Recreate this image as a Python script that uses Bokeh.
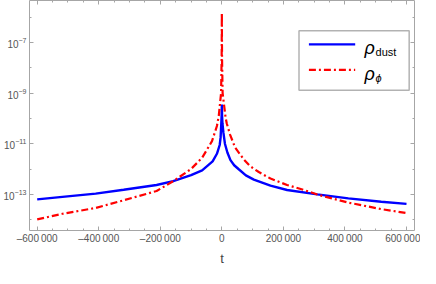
from bokeh.plotting import figure
from bokeh.models import (FixedTicker, LinearAxis, Range1d, BoxAnnotation,
                          Label, Arrow, LogTickFormatter, CustomJSTickFormatter)
from bokeh.embed import file_html
from bokeh.resources import INLINE

# ---- data ----
dust_t = [-600000, -518000, -410000, -319000, -212000, -158000, -100000, -64000,
          -30000, -16000, -7000, -4000, -2000, -700, 0, 700, 2000, 5000, 10000,
          18000, 28000, 40000, 54000, 78000, 104000, 158000, 212000, 310000,
          411000, 518000, 600000]
dust_rho = [6.3e-14, 7.9e-14, 1.07e-13, 1.51e-13, 2.34e-13, 3.3e-13, 5.75e-13, 8.9e-13,
            2.0e-12, 4.0e-12, 8.9e-12, 1.78e-11, 5.6e-11, 1.26e-10, 3.5e-10, 1.26e-10,
            6.3e-11, 2.8e-11, 1.0e-11, 4.5e-12, 2.24e-12, 1.41e-12, 1.0e-12, 5.6e-13,
            3.8e-13, 2.2e-13, 1.48e-13, 1.0e-13, 6.9e-14, 5.1e-14, 4.2e-14]

phi_t = [-600000, -518000, -410000, -319000, -212000, -158000, -100000, -64000,
         -32000, -16000, -10000, -2500, -600, 0, 600, 2500, 12000, 16000, 27000,
         43000, 72000, 91000, 120000, 158000, 212000, 265000, 310000, 411000,
         518000, 600000]
phi_rho = [1.02e-14, 1.70e-14, 2.9e-14, 5.8e-14, 1.35e-13, 3.3e-13, 1.0e-12, 2.8e-12,
           1.26e-11, 5.0e-11, 1.26e-10, 1.0e-09, 2.5e-08, 1.48e-06, 2.5e-08, 1.0e-09,
           1.12e-10, 6.3e-11, 2.24e-11, 7.1e-12, 2.34e-12, 1.32e-12, 7.6e-13, 4.2e-13,
           2.34e-13, 1.51e-13, 9.8e-14, 4.7e-14, 2.6e-14, 1.82e-14]

x_ticks = [-600000, -400000, -200000, 0, 200000, 400000, 600000]
x_tick_labels = ["\u2013600\u2009000", "\u2013400\u2009000", "\u2013200\u2009000", "0",
                 "200\u2009000", "400\u2009000", "600\u2009000"]
x_minor = [-600000, -550000, -500000, -450000, -400000, -350000, -300000, -250000,
           -200000, -150000, -100000, -50000, 0, 50000, 100000, 150000, 200000,
           250000, 300000, 350000, 400000, 450000, 500000, 550000, 600000]
y_ticks = [1e-13, 1e-11, 1e-9, 1e-7]
y_minor = [1e-14, 1e-12, 1e-10, 1e-8, 1e-6]
x_title = "t"

FONT = "Liberation Sans"
AX = "#a6a6a6"
LBL = "#555555"

p = figure(width=420, height=268, output_backend="svg", toolbar_location=None,
           y_axis_type="log", x_range=Range1d(-625000, 626000),
           y_range=Range1d(10 ** -14.43, 10 ** -5.34),
           min_border_left=26, min_border_right=6, min_border_top=0,
           min_border_bottom=0, x_axis_label=x_title)
p.grid.visible = False
p.outline_line_color = None
p.background_fill_color = "white"
p.border_fill_color = "white"

p.line(dust_t, dust_rho, line_color="#0000ff", line_width=2.4)
p.line(phi_t, phi_rho, line_color="#ff0000", line_width=2.2, line_dash="7 3 2 3")

xt = FixedTicker(ticks=x_ticks, minor_ticks=x_minor)
yt = FixedTicker(ticks=y_ticks, minor_ticks=y_minor)


def style(ax):
    ax.axis_line_color = AX
    ax.axis_line_width = 1
    ax.major_tick_line_color = AX
    ax.minor_tick_line_color = AX
    ax.major_tick_in = 4
    ax.major_tick_out = 0
    ax.minor_tick_in = 2
    ax.minor_tick_out = 0
    ax.major_label_text_font = FONT
    ax.major_label_text_font_size = "10px"
    ax.major_label_text_color = LBL
    ax.major_label_standoff = 3


xa = p.xaxis[0]
xa.ticker = xt
xa.major_label_overrides = {t: s for t, s in zip(x_ticks, x_tick_labels)}
style(xa)
xa.major_label_standoff = 2
xa.axis_label_text_font = FONT
xa.axis_label_text_font_style = "normal"
xa.axis_label_text_font_size = "13px"
xa.axis_label_text_color = "#444444"
xa.axis_label_standoff = 4

ya = p.yaxis[0]
ya.ticker = yt
ya.formatter = LogTickFormatter()
style(ya)

blank = CustomJSTickFormatter(code="return ''")
top = LinearAxis(ticker=xt, formatter=blank)
style(top)
top.major_label_standoff = 0
p.add_layout(top, "above")
right = LinearAxis(ticker=yt, formatter=blank)
style(right)
right.major_label_standoff = 0
p.add_layout(right, "right")

# ---- legend (drawn manually to allow subscripts), placed in data units ----
p.add_layout(BoxAnnotation(left=250700, right=608700, top=10 ** -6.536, bottom=10 ** -8.887,
                           fill_color="white", fill_alpha=1,
                           line_color="black", line_width=1.5))
p.add_layout(Arrow(end=None, x_start=282900, x_end=433300,
                   y_start=10 ** -7.075, y_end=10 ** -7.075,
                   line_color="#0000ff", line_width=2.4))
p.add_layout(Arrow(end=None, x_start=282900, x_end=433300,
                   y_start=10 ** -8.083, y_end=10 ** -8.083,
                   line_color="#ff0000", line_width=2.2, line_dash="7 3 2 3"))
for yy, sub, st in [(10 ** -7.226, "dust", "normal"), (10 ** -8.234, "\u03d5", "italic")]:
    p.add_layout(Label(x=463600, y=yy, text="\u03c1", x_offset=0, y_offset=0,
                       text_font=FONT, text_font_size="18px", text_font_style="italic",
                       text_color="black", text_baseline="middle"))
    p.add_layout(Label(x=463600, y=yy, text=sub, x_offset=11, y_offset=-4,
                       text_font=FONT, text_font_size="11px", text_font_style=st,
                       text_color="black", text_baseline="middle"))

open("out.html", "w").write(file_html(p, INLINE))
